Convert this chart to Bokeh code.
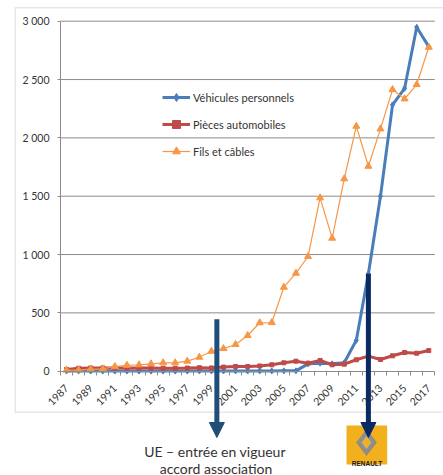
import math
from bokeh.plotting import figure
from bokeh.models import (FixedTicker, Legend, LegendItem, Arrow, NormalHead, Label,
                          BoxAnnotation, PolyAnnotation, ColumnDataSource, Range1d)
from bokeh.embed import file_html
from bokeh.resources import INLINE

# ---------------- data ----------------
years = list(range(1987, 2018))
vehicules = [1, 1, 1, 1, 1, 1, 1, 1, 1, 1, 1, 2, 2, 2, 2, 2, 2, 2, 3, 3,
             63, 69, 63, 72, 265, 835, 1500, 2283, 2425, 2948, 2782]
pieces = [15, 25, 28, 28, 28, 28, 27, 27, 26, 26, 27, 30, 28, 35, 40, 40, 45, 55, 72, 86,
          69, 92, 55, 60, 98, 129, 100, 132, 160, 154, 177]
fils = [10, 10, 17, 20, 40, 51, 55, 63, 72, 72, 86, 120, 171, 194, 229, 306, 415, 417, 720, 840,
        983, 1486, 1140, 1649, 2100, 1757, 2077, 2414, 2334, 2457, 2777]
series_names = ["Véhicules personnels", "Pièces automobiles", "Fils et câbles"]
y_ticks = [0, 500, 1000, 1500, 2000, 2500, 3000]
y_tick_labels = ["0", "500", "1 000", "1 500", "2 000", "2 500", "3 000"]
x_label_years = list(range(1987, 2018, 2))
event_ue_year = 1999.45
event_renault_year = 2012
ue_text = ["UE – entrée en vigueur", "accord association"]

# ---------------- layout (pixels on the canvas) ----------------
W, H = 443, 475
PL, PR = 60.0, 434.3      # plot-area left / right
PT, PB = 20.7, 370.7      # plot-area top / bottom
X0, X1 = years[0] - 0.5, years[-1] + 0.5
Y0, Y1 = 0, 3000
kx = (X1 - X0) / (PR - PL)
ky = (Y1 - Y0) / (PB - PT)

src = ColumnDataSource(dict(x=years, v=vehicules, p=pieces, f=fils))
grid_src = ColumnDataSource(dict(y=y_ticks[1:], x0=[X0] * (len(y_ticks) - 1),
                                 x1=[X1] * (len(y_ticks) - 1)))

p = figure(width=W, height=H, output_backend="svg", toolbar_location=None,
           x_range=Range1d(X0 - PL * kx, X1 + (W - PR) * kx),
           y_range=Range1d(Y0 - (H - PB) * ky, Y1 + PT * ky),
           min_border=0)
p.outline_line_color = None
p.background_fill_color = "white"
p.border_fill_color = "white"

FONT = "Lato"
GRID = "#8C8C8C"
TXT = "#333333"

def sy(y_top):
    return H - y_top    # screen y measured from canvas bottom

# outer chart-area border
p.add_layout(BoxAnnotation(left=14.7, right=W + 20, top=sy(7.3), bottom=sy(411.7),
                           left_units="screen", right_units="screen",
                           top_units="screen", bottom_units="screen",
                           fill_alpha=0, line_color=GRID, line_width=1))

# grid
p.xgrid.visible = False
p.ygrid.visible = False
p.segment(x0="x0", x1="x1", y0="y", y1="y", source=grid_src, line_color=GRID, line_width=1)

# axes
p.yaxis.fixed_location = X0
p.yaxis.bounds = (Y0, Y1)
p.yaxis.ticker = FixedTicker(ticks=y_ticks)
p.yaxis.major_label_overrides = {t: l for t, l in zip(y_ticks, y_tick_labels)}
p.yaxis.axis_line_color = GRID
p.yaxis.major_tick_line_color = GRID
p.yaxis.major_tick_out = 3
p.yaxis.major_tick_in = 0
p.yaxis.minor_tick_line_color = None
p.yaxis.major_label_standoff = 8
p.yaxis.major_label_text_font = FONT
p.yaxis.major_label_text_font_size = "10.5px"
p.yaxis.major_label_text_color = TXT

p.xaxis.fixed_location = Y0
p.xaxis.bounds = (X0, X1)
p.xaxis.ticker = FixedTicker(ticks=x_label_years,
                             minor_ticks=[y - 0.5 for y in years] + [years[-1] + 0.5])
p.xaxis.axis_line_color = GRID
p.xaxis.major_tick_out = 0
p.xaxis.major_tick_in = 0
p.xaxis.minor_tick_line_color = GRID
p.xaxis.minor_tick_out = 4
p.xaxis.minor_tick_in = 0
p.xaxis.major_label_orientation = math.pi / 4
p.xaxis.major_label_standoff = 11
p.xaxis.major_label_text_font = FONT
p.xaxis.major_label_text_font_size = "10.5px"
p.xaxis.major_label_text_color = TXT

# series
BLUE, RED, ORANGE = "#4A7EBB", "#BE4B48", "#F79646"
lb = p.line("x", "v", source=src, line_color=BLUE, line_width=3)
mb = p.scatter("x", "v", source=src, marker="diamond", size=6, color=BLUE)
lr = p.line("x", "p", source=src, line_color=RED, line_width=3)
mr = p.scatter("x", "p", source=src, marker="square", size=4, color=RED)
lo = p.line("x", "f", source=src, line_color=ORANGE, line_width=1.2)
mo = p.scatter("x", "f", source=src, marker="triangle", size=7, color=ORANGE)

legend = Legend(items=[LegendItem(label=series_names[0], renderers=[lb, mb]),
                       LegendItem(label=series_names[1], renderers=[lr, mr]),
                       LegendItem(label=series_names[2], renderers=[lo, mo])],
                location=(162, 314), border_line_color=None, background_fill_alpha=0,
                glyph_width=28, glyph_height=20, label_height=20, spacing=7,
                label_standoff=3, padding=0, margin=0,
                label_text_font=FONT, label_text_font_size="11px",
                label_text_color=TXT)
p.add_layout(legend)

# Renault logo (decoration)
LOGO_Y = "#F2B01E"
p.add_layout(BoxAnnotation(left=346, right=386.7, top=sy(425), bottom=sy(464),
                           left_units="screen", right_units="screen",
                           top_units="screen", bottom_units="screen",
                           fill_color=LOGO_Y, fill_alpha=1, line_color=None))
p.add_layout(PolyAnnotation(xs=[366, 376, 366, 356], ys=[sy(429), sy(442), sy(455), sy(442)],
                            xs_units="screen", ys_units="screen",
                            fill_color="#8E8E8E", fill_alpha=1, line_color="#6A6A6A", line_width=1))
p.add_layout(PolyAnnotation(xs=[366, 370.5, 366, 361.5], ys=[sy(436), sy(442), sy(448), sy(442)],
                            xs_units="screen", ys_units="screen",
                            fill_color=LOGO_Y, fill_alpha=1, line_color="#D8D8D8", line_width=1))
p.add_layout(Label(x=366.5, y=sy(462.5), x_units="screen", y_units="screen", text="RENAULT",
                   text_align="center", text_baseline="alphabetic", text_font="Liberation Sans",
                   text_font_style="bold", text_font_size="6.5px", text_color="#1A1A1A"))

# event arrows
tip = Y0 - (437 - PB) * ky
idx = years.index(event_renault_year)
p.add_layout(Arrow(x_start=event_ue_year, y_start=445, x_end=event_ue_year, y_end=tip,
                   line_color="#1F4E79", line_width=5,
                   end=NormalHead(size=15, fill_color="#1F4E79", line_color="#1F4E79")))
p.add_layout(Arrow(x_start=event_renault_year, y_start=vehicules[idx], x_end=event_renault_year,
                   y_end=tip, line_color="#0B2A63", line_width=5,
                   end=NormalHead(size=15, fill_color="#0B2A63", line_color="#0B2A63")))

# annotation text
p.add_layout(Label(x=214.5, y=sy(451), x_units="screen", y_units="screen", text=ue_text[0],
                   text_align="center", text_baseline="alphabetic", text_font=FONT,
                   text_font_size="14px", text_color=TXT))
p.add_layout(Label(x=215.5, y=sy(467.5), x_units="screen", y_units="screen", text=ue_text[1],
                   text_align="center", text_baseline="alphabetic", text_font=FONT,
                   text_font_size="14px", text_color=TXT))

open("out.html", "w").write(file_html(p, INLINE))
